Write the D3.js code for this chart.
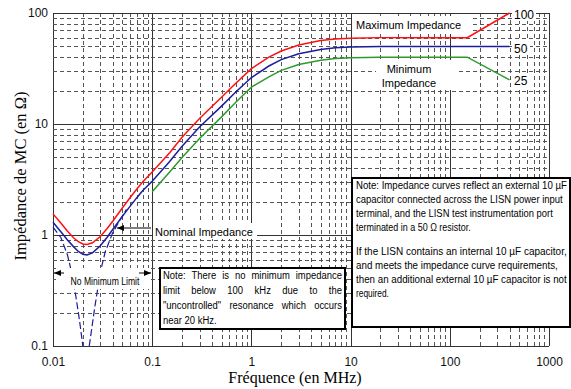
<!DOCTYPE html>
<html>
<head>
<meta charset="utf-8">
<script src="https://cdn.jsdelivr.net/npm/d3@7"></script>
<style>
  body { margin: 0; background: #fff; }
  text { font-family: "Liberation Sans", Arial, sans-serif; }
</style>
</head>
<body>
<div id="chart"></div>
<script>
// frequencies (MHz) and impedance curves (ohm)
const freq = [0.01, 0.012, 0.014, 0.016, 0.018, 0.02, 0.022, 0.025, 0.03, 0.035, 0.04, 0.05, 0.06, 0.07, 0.08,
  0.1, 0.15, 0.2, 0.3, 0.5, 0.7, 1, 1.5, 2, 3, 5, 7, 10, 20, 50, 100, 150, 400];
const zMax = [1.55, 1.28, 1.08, 0.95, 0.87, 0.83, 0.82, 0.85, 0.97, 1.14, 1.33, 1.75, 2.18, 2.6, 3.0,
  3.7, 5.5, 7.6, 11.2, 17.4, 23.4, 31.5, 40, 45.5, 51.5, 56.5, 58.3, 59.3, 60, 60, 60, 60, 100];
const zNom = [1.3, 1.07, 0.9, 0.79, 0.71, 0.67, 0.66, 0.69, 0.8, 0.95, 1.12, 1.47, 1.82, 2.17, 2.5,
  3.05, 4.6, 6.3, 9.4, 14.5, 19.5, 26.2, 33.3, 38, 43, 47, 48.6, 49.4, 50, 50, 50, 50, 50];
const zMin = [null, null, null, null, null, null, null, null, null, null, null, null, null, null, null,
  2.45, 3.7, 5.0, 7.4, 11.6, 15.8, 21.5, 26.6, 30.4, 34.4, 37.6, 38.9, 39.5, 40, 40, 40, 40, 25];

// uncontrolled resonance branches (dashed)
const resLeftF = [0.01, 0.012, 0.014, 0.0155, 0.017, 0.0185, 0.02];
const resLeftZ = [1.18, 0.95, 0.66, 0.45, 0.28, 0.17, 0.1];
const resRightF = [0.0232, 0.0265, 0.03, 0.0335, 0.04, 0.047, 0.055];
const resRightZ = [0.1, 0.23, 0.46, 0.7, 1.05, 1.35, 1.7];

const xTicks = [0.01, 0.1, 1, 10, 100, 1000];
const xLabels = ["0.01", "0.1", "1", "10", "100", "1000"];
const yTicks = [0.1, 1, 10, 100];
const yLabels = ["0.1", "1", "10", "100"];

const W = 571, H = 389;
const svg = d3.select('#chart').append('svg')
    .attr('width', W)
    .attr('height', H);

const x = d3.scaleLog().domain([0.01, 1000]).range([53, 549]);
const y = d3.scaleLog().domain([0.1, 100]).range([346, 13]);

const isMajor = v => Math.abs(Math.log10(v) - Math.round(Math.log10(v))) < 1e-6;

// grid
const grid = svg.append('g');
grid.selectAll('line.gx')
  .data(x.ticks())
  .join('line')
    .attr('x1', d => Math.round(x(d)) + 0.5)
    .attr('x2', d => Math.round(x(d)) + 0.5)
    .attr('y1', y(0.1)).attr('y2', y(100))
    .attr('stroke', d => isMajor(d) ? '#333' : '#555')
    .attr('stroke-dasharray', d => isMajor(d) ? null : '4,3');
grid.selectAll('line.gy')
  .data(y.ticks())
  .join('line')
    .attr('y1', d => Math.round(y(d)) + 0.5)
    .attr('y2', d => Math.round(y(d)) + 0.5)
    .attr('x1', x(0.01)).attr('x2', x(1000))
    .attr('stroke', d => isMajor(d) ? '#333' : '#555')
    .attr('stroke-dasharray', d => isMajor(d) ? null : '4,3');

// axes
const xAxis = svg.append('g')
    .attr('transform', `translate(0,${y(0.1)})`)
    .call(d3.axisBottom(x).tickValues(xTicks).tickSize(0).tickPadding(11)
      .tickFormat((d, i) => xLabels[i]));
xAxis.select('.domain').remove();
const yAxis = svg.append('g')
    .attr('transform', `translate(${x(0.01)},0)`)
    .call(d3.axisLeft(y).tickValues(yTicks).tickSize(0).tickPadding(5)
      .tickFormat((d, i) => yLabels[i]));
yAxis.select('.domain').remove();
svg.selectAll('.tick text')
    .style('font-family', '"Liberation Sans", Arial, sans-serif')
    .style('font-size', '12px')
    .attr('fill', '#111');

// white backgrounds behind labels
const bg = (x0, y0, w, h) => svg.append('rect').attr('x', x0).attr('y', y0)
    .attr('width', w).attr('height', h).attr('fill', '#fff');
bg(352, 16, 118, 18);
bg(376, 60, 80, 30);
bg(153, 223, 104, 16);
bg(512, 7, 24, 14);
bg(512, 41, 18, 14);
bg(512, 73, 18, 14);

// curves
const line = d3.line()
    .defined(d => d.z != null)
    .x(d => x(d.f))
    .y(d => y(d.z));

const series = [
  { z: zMax, color: '#ff1010' },
  { z: zNom, color: '#1c1c9c' },
  { z: zMin, color: '#2e9a2e' }
];
svg.append('g').selectAll('path')
  .data(series)
  .join('path')
    .attr('d', s => line(freq.map((f, i) => ({ f, z: s.z[i] }))))
    .attr('fill', 'none')
    .attr('stroke', s => s.color)
    .attr('stroke-width', 1.5);

[[resLeftF, resLeftZ], [resRightF, resRightZ]].forEach(([fs, zs]) => {
  svg.append('path')
    .attr('d', line(fs.map((f, i) => ({ f, z: zs[i] }))))
    .attr('fill', 'none')
    .attr('stroke', '#1c1c9c')
    .attr('stroke-width', 1.2)
    .attr('stroke-dasharray', '7,3');
});

// squeeze a text horizontally to a given width
function fitText(parent, str, x0, y0, width, size, anchor) {
  const t = parent.append('text').style('font-size', size + 'px').text(str);
  const nat = t.node().getComputedTextLength();
  const k = width / nat;
  const left = anchor === 'middle' ? x0 - width / 2 : x0;
  t.attr('transform', `translate(${left},${y0}) scale(${k},1)`);
  return t;
}

// "No Minimum Limit" annotation
bg(56, 268, 93, 21);
const arrow = (x1, x2, yy) => {
  svg.append('line').attr('x1', x1).attr('x2', x2).attr('y1', yy).attr('y2', yy)
    .attr('stroke', '#000').attr('stroke-width', 1);
  const dir = x2 > x1 ? 1 : -1;
  svg.append('path')
    .attr('d', `M${x2},${yy} L${x2 - dir * 7},${yy - 3} L${x2 - dir * 7},${yy + 3} Z`)
    .attr('fill', '#000');
};
arrow(64, 54, 273);
arrow(139, 151, 273);
fitText(svg, 'No Minimum Limit', 105, 284.5, 69, 10.5, 'middle');

// "Nominal Impedance" label with arrow
arrow(151, 117, 228);
svg.append('text').attr('x', 155).attr('y', 235.5)
    .style('font-size', '11px').text('Nominal Impedance');

svg.append('text').attr('x', 356).attr('y', 28.5)
    .style('font-size', '11px').text('Maximum Impedance');
svg.append('text').attr('x', 409).attr('y', 73)
    .attr('text-anchor', 'middle').style('font-size', '11px').text('Minimum');
svg.append('text').attr('x', 409).attr('y', 87)
    .attr('text-anchor', 'middle').style('font-size', '11px').text('Impedance');

svg.append('text').attr('x', 514).attr('y', 18.5).style('font-size', '12px').text('100');
svg.append('text').attr('x', 514).attr('y', 52.5).style('font-size', '12px').text('50');
svg.append('text').attr('x', 514).attr('y', 84.5).style('font-size', '12px').text('25');

// note box 1 (justified)
svg.append('rect').attr('x', 160).attr('y', 268).attr('width', 185).attr('height', 61)
    .attr('fill', '#fff').attr('stroke', '#000').attr('stroke-width', 2);
const note1 = [
  'Note:  There is no minimum impedance',
  'limit below 100 kHz due to the',
  '"uncontrolled" resonance which occurs',
  'near 20 kHz.'
];
const sx = 0.86;
const g1 = svg.append('g').attr('transform', `translate(163,0) scale(${sx},1)`);
note1.forEach((ln, li) => {
  const yy = 279.5 + li * 15;
  if (li === note1.length - 1) {
    g1.append('text').attr('x', 0).attr('y', yy).style('font-size', '11px').text(ln);
    return;
  }
  const words = ln.split(/\s+/);
  const els = words.map(w => g1.append('text').attr('y', yy).style('font-size', '11px').text(w));
  const widths = els.map(e => e.node().getComputedTextLength());
  const total = 179 / sx;
  const gap = (total - d3.sum(widths)) / (words.length - 1);
  let cx = 0;
  els.forEach((e, i) => { e.attr('x', cx); cx += widths[i] + gap; });
});

// note box 2
svg.append('rect').attr('x', 352).attr('y', 178).attr('width', 218).attr('height', 149)
    .attr('fill', '#fff').attr('stroke', '#000').attr('stroke-width', 2);
const note2 = [
  ['Note:  Impedance curves reflect an external 10 µF', 211, 189],
  ['capacitor connected across the LISN power input', 207, 203],
  ['terminal, and the LISN test instrumentation port', 197, 217],
  ['terminated in a 50 Ω resistor.', 115, 231],
  ['If the LISN contains an internal 10 µF capacitor,', 211, 255],
  ['and meets the impedance curve requirements,', 202, 269],
  ['then an additional external 10 µF capacitor is not', 211, 283],
  ['required.', 33, 297]
];
const g2 = svg.append('g');
note2.forEach(d => fitText(g2, d[0], 356, d[2], d[1], 11, 'start'));

// axis titles
svg.append('text')
    .attr('x', 295).attr('y', 383)
    .attr('text-anchor', 'middle')
    .style('font-family', '"Liberation Serif", "Times New Roman", serif')
    .style('font-size', '16px')
    .text('Fréquence (en MHz)');
svg.append('text')
    .attr('transform', 'translate(26,176) rotate(-90)')
    .attr('text-anchor', 'middle')
    .style('font-family', '"Liberation Serif", "Times New Roman", serif')
    .style('font-size', '16.5px')
    .text('Impédance de MC (en Ω)');
</script>
</body>
</html>
